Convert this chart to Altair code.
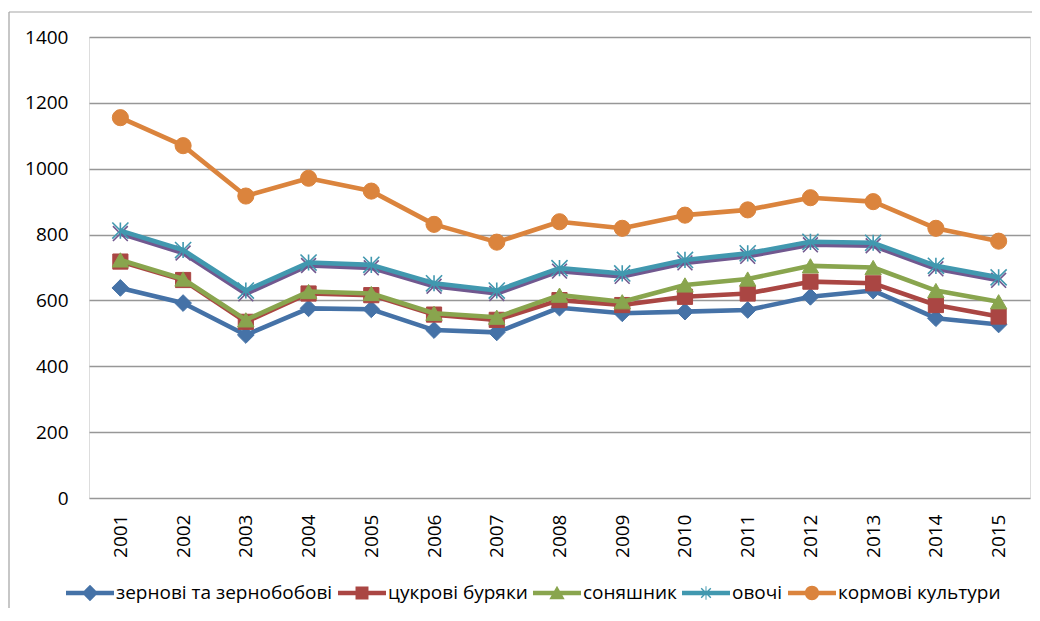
import altair as alt
import pandas as pd

# ---------------- data ----------------
years = ["2001", "2002", "2003", "2004", "2005", "2006", "2007", "2008",
         "2009", "2010", "2011", "2012", "2013", "2014", "2015"]

grain = [638, 592, 495, 576, 573, 510, 503, 578, 561, 566, 571, 611, 630, 546, 527]
sugar_beet = [718, 662, 535, 621, 616, 557, 541, 601, 586, 611, 621, 657, 652, 586, 551]
sunflower = [723, 665, 541, 627, 621, 561, 549, 616, 596, 647, 665, 705, 700, 630, 596]
hidden_series = [803, 744, 620, 706, 699, 643, 621, 689, 673, 714, 734, 769, 766, 696, 661]
vegetables = [812, 753, 630, 715, 708, 652, 630, 698, 682, 723, 743, 778, 775, 705, 670]
fodder = [1155, 1070, 917, 971, 932, 831, 777, 839, 819, 859, 875, 912, 900, 819, 780]

series_names = ["зернові та зернобобові", "цукрові буряки", "соняшник",
                "картопля", "овочі", "кормові культури"]
series_values = [grain, sugar_beet, sunflower, hidden_series, vegetables, fodder]
legend_names = ["зернові та зернобобові", "цукрові буряки", "соняшник",
                "овочі", "кормові культури"]
y_ticks = [0, 200, 400, 600, 800, 1000, 1200, 1400]

# ---------------- styles ----------------
colors = ["#4572A7", "#AA4643", "#89A54E", "#71588F", "#4198AF", "#DB843D"]
X_PATH = "M-1,-1L1,1M-1,1L1,-1"
STAR_PATH = "M-1,-1L1,1M-1,1L1,-1M0,-1L0,1"
markers = [
    dict(shape="diamond", size=280, filled=True),
    dict(shape="square", size=230, filled=True),
    dict(shape="triangle-up", size=270, filled=True),
    dict(shape=X_PATH, size=220, filled=False),
    dict(shape=STAR_PATH, size=260, filled=False),
    dict(shape="circle", size=260, filled=True),
]

LINE = "M-1,-0.09L1,-0.09L1,0.09L-1,0.09Z"
legend_paths = [
    LINE + "M-0.34,0L0,-0.34L0.34,0L0,0.34Z",
    LINE + "M-0.27,-0.27L0.27,-0.27L0.27,0.27L-0.27,0.27Z",
    LINE + "M0,-0.3L0.32,0.26L-0.32,0.26Z",
    LINE + "M-0.22,-0.18L-0.18,-0.22L0.22,0.18L0.18,0.22Z"
           "M0.22,-0.18L-0.18,0.22L-0.22,0.18L0.18,-0.22Z"
           "M-0.02,-0.28L0.02,-0.28L0.02,0.28L-0.02,0.28Z",
    LINE + "M-0.3,0A0.3,0.3 0 1,1 0.3,0A0.3,0.3 0 1,1 -0.3,0Z",
]
legend_colors = [colors[0], colors[1], colors[2], colors[4], colors[5]]

FONT = "Open Sans"

rows = []
for name, vals in zip(series_names, series_values):
    for yr, v in zip(years, vals):
        rows.append({"series": name, "year": yr, "value": v})
df = pd.DataFrame(rows)

x_enc = alt.X("year:O", sort=years, scale=alt.Scale(domain=years), title=None,
              axis=alt.Axis(labelAngle=270, labelPadding=16, ticks=False, tickSize=0,
                            domain=False, grid=False, labelFontSize=19,
                            labelFont=FONT, labelColor="#000000"))
y_enc = alt.Y("value:Q", scale=alt.Scale(domain=[0, 1400], nice=False), title=None,
              axis=alt.Axis(values=y_ticks, format="d", ticks=False, tickSize=0,
                            domain=False, grid=True, gridColor="#979797", gridWidth=1.6,
                            labelPadding=21, labelFontSize=19, labelFont=FONT,
                            labelColor="#000000"))

# chart-area frame (Excel style)
frame_left = alt.Chart(alt.Data(values=[{}])).mark_rule(
    color="#8f8f8f", strokeWidth=1).encode(
    x=alt.value(-80), y=alt.value(-25), y2=alt.value(700))
frame_top = alt.Chart(alt.Data(values=[{}])).mark_rule(
    color="#a5a5a5", strokeWidth=1).encode(
    x=alt.value(-80), x2=alt.value(1000), y=alt.value(-25))

layers = [frame_left, frame_top]
for name, col, mk in zip(series_names, colors, markers):
    base = alt.Chart(df).transform_filter(alt.datum.series == name)
    line = base.mark_line(color=col, strokeWidth=4.6, strokeJoin="round").encode(x=x_enc, y=y_enc)
    if mk["filled"]:
        pts = base.mark_point(shape=mk["shape"], size=mk["size"], filled=True,
                              color=col, opacity=1, stroke=col, strokeWidth=1)
    else:
        pts = base.mark_point(shape=mk["shape"], size=mk["size"], filled=False,
                              color=col, opacity=1, strokeWidth=1.6)
    layers += [line, pts.encode(x=x_enc, y=y_enc)]

leg = alt.Legend(orient="none", legendX=-23, legendY=532, direction="horizontal",
                 columns=5, title=None, symbolSize=2304, symbolStrokeWidth=0,
                 labelFontSize=19, labelFont=FONT, labelColor="#000000",
                 labelOffset=2, columnPadding=5, padding=0, labelLimit=400)
legend_layer = alt.Chart(df).transform_filter("false").mark_point(
    filled=True, opacity=1).encode(
    color=alt.Color("series:N", scale=alt.Scale(domain=legend_names, range=legend_colors), legend=leg),
    shape=alt.Shape("series:N", scale=alt.Scale(domain=legend_names, range=legend_paths), legend=leg),
)
layers.append(legend_layer)

chart = alt.layer(*layers).properties(
    width=941, height=461,
    autosize=alt.AutoSizeParams(type="none"),
    padding={"left": 81, "top": 29, "right": 2, "bottom": 110},
).configure_view(stroke=None).configure(background="white")

chart.save("out.html", embed_options={"renderer": "svg", "actions": False})
